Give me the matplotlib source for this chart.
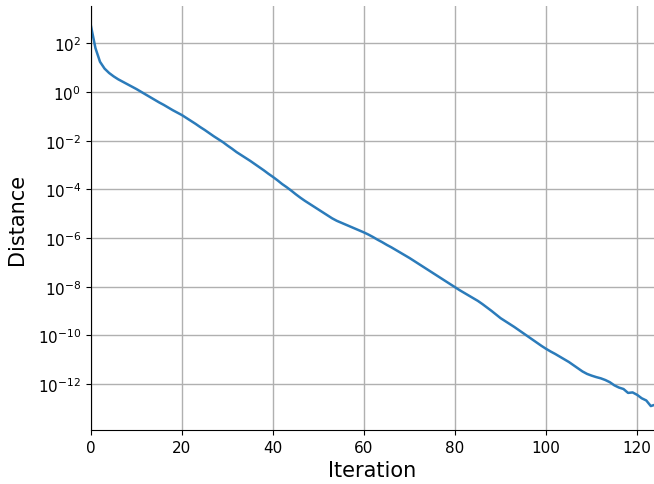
import numpy as np
import matplotlib
matplotlib.use("Agg")
import matplotlib.pyplot as plt

# log10 of the distance for each iteration 0..124
log_distance = [
    2.72, 1.80, 1.24, 0.96, 0.78, 0.64, 0.52, 0.42, 0.32, 0.22,
    0.12, 0.01, -0.10, -0.21, -0.32, -0.43, -0.53, -0.64, -0.75, -0.85,
    -0.95, -1.07, -1.19, -1.31, -1.44, -1.56, -1.69, -1.82, -1.94, -2.06,
    -2.20, -2.33, -2.47, -2.59, -2.71, -2.83, -2.96, -3.09, -3.22, -3.36,
    -3.49, -3.63, -3.78, -3.91, -4.05, -4.20, -4.34, -4.47, -4.59, -4.71,
    -4.83, -4.95, -5.07, -5.19, -5.29, -5.37, -5.45, -5.53, -5.61, -5.69,
    -5.77, -5.86, -5.96, -6.07, -6.17, -6.28, -6.38, -6.49, -6.60, -6.71,
    -6.82, -6.94, -7.06, -7.18, -7.30, -7.42, -7.54, -7.66, -7.78, -7.90,
    -8.02, -8.14, -8.25, -8.36, -8.47, -8.58, -8.71, -8.85, -8.99, -9.14,
    -9.29, -9.41, -9.53, -9.65, -9.78, -9.91, -10.04, -10.17, -10.30, -10.43,
    -10.55, -10.66, -10.76, -10.87, -10.98, -11.09, -11.22, -11.35, -11.48, -11.58,
    -11.65, -11.71, -11.76, -11.83, -11.92, -12.05, -12.14, -12.20, -12.36, -12.34,
    -12.44, -12.58, -12.67, -12.90, -12.84,
]
iterations = list(range(len(log_distance)))
distance = [10.0 ** v for v in log_distance]

fig = plt.figure(figsize=(6.54, 4.85), dpi=100)
ax = fig.add_axes([0.139, 0.111, 0.861, 0.874])

ax.plot(iterations, distance, color="#2b7bba", linewidth=1.8)
ax.set_yscale("log")
ax.set_xlim(0, 123.7)
ax.set_ylim(10 ** -13.89, 10 ** 3.52)
ax.set_yticks([10.0 ** k for k in range(-12, 3, 2)])
ax.yaxis.set_minor_locator(matplotlib.ticker.NullLocator())
ax.set_xticks([0, 20, 40, 60, 80, 100, 120])

ax.grid(True, color="#b0b0b0", linewidth=1)
ax.spines["top"].set_visible(False)
ax.spines["right"].set_visible(False)
ax.tick_params(labelsize=11)

ax.set_xlabel("Iteration", fontsize=15)
ax.set_ylabel("Distance", fontsize=15, labelpad=8)

fig.savefig("out.png", dpi=100)
